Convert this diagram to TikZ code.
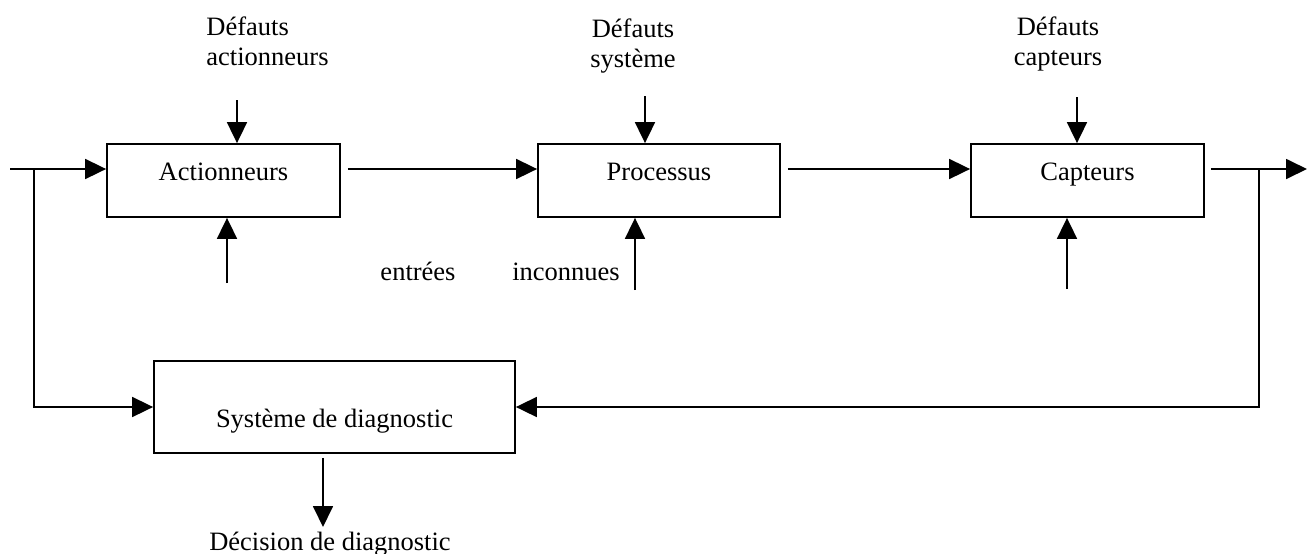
\documentclass[tikz,border=0pt]{standalone}
\usepackage{fontspec}
\setmainfont{Liberation Serif}
\usetikzlibrary{arrows.meta}
\begin{document}
\begin{tikzpicture}[x=0.5pt,y=-0.5pt,
  font=\fontsize{13.25pt}{15pt}\selectfont,
  block/.style={draw,line width=0.9pt,inner sep=0pt,text height=6pt,text depth=6pt},
  conn/.style={line width=0.9pt},
  arr/.style={conn,-{Triangle[length=10.5pt,width=10pt]}},
  lbl/.style={inner sep=0pt,anchor=base}]
\useasboundingbox (0,0) rectangle (1314,553);
% blocks
\node[block,minimum width=116.5pt,minimum height=36.5pt] (act) at (223.5,180.5) {Actionneurs};
\node[block,minimum width=121pt,minimum height=36.5pt] (proc) at (659,180.5) {Processus};
\node[block,minimum width=116.5pt,minimum height=36.5pt] (capt) at (1087.5,180.5) {Capteurs};
\node[block,minimum width=180.5pt,minimum height=46pt,text height=20pt,text depth=0pt] (diag) at (334.5,407) {Système de diagnostic};
% labels (base anchor = baseline of the last line)
\node[lbl,anchor=base west,align=left] (da) at (206,65) {Défauts\\actionneurs};
\node[lbl,align=center] (ds) at (633,67) {Défauts\\système};
\node[lbl,align=center] (dc) at (1058,65) {Défauts\\capteurs};
\node[lbl] (en) at (418,280) {entrées};
\node[lbl] (ic) at (566,280) {inconnues};
\node[lbl] (dec) at (330,550) {Décision de diagnostic};
% coordinates
\coordinate (in) at (10,169);
\coordinate (j1) at (34,169);
\coordinate (out) at (1307,169);
\coordinate (j2) at (1259,169);
\coordinate (ta1) at (237,100);
\coordinate (ta2) at (645,96);
\coordinate (ta3) at (1077,97);
\coordinate (ba1) at (227,283);
\coordinate (ba2) at (635,290);
\coordinate (ba3) at (1067,289);
\coordinate (dd) at (323,527);
% main chain
\draw[arr] (in) -- (in -| act.west);
\draw[arr] ([xshift=3.5pt]act.east |- in) -- (proc.west |- in);
\draw[arr] ([xshift=3.5pt]proc.east |- in) -- (capt.west |- in);
\draw[arr] ([xshift=3pt]capt.east |- in) -- (out);
% feedback to diagnostic
\draw[arr] (j1) |- (diag.west);
\draw[arr] (j2) |- (diag.east);
% top fault arrows
\draw[arr] (ta1) -- (ta1 |- act.north);
\draw[arr] (ta2) -- (ta2 |- proc.north);
\draw[arr] (ta3) -- (ta3 |- capt.north);
% bottom unknown input arrows
\draw[arr] (ba1) -- (ba1 |- act.south);
\draw[arr] (ba2) -- (ba2 |- proc.south);
\draw[arr] (ba3) -- (ba3 |- capt.south);
% decision
\draw[arr] ([yshift=-2pt]diag.south -| dd) -- (dd);
\end{tikzpicture}
\end{document}
